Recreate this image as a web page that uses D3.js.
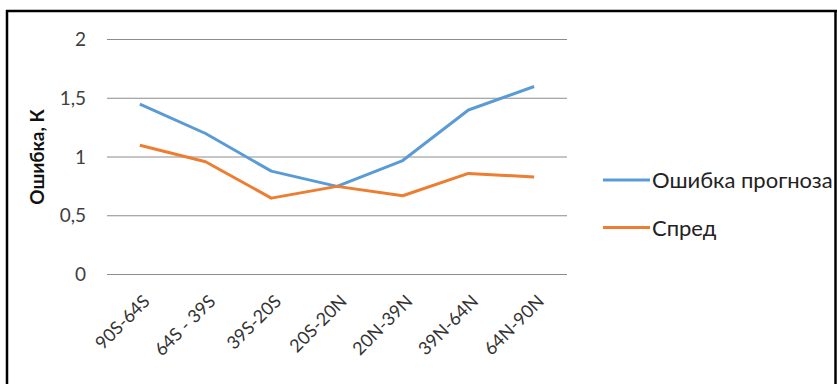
<!DOCTYPE html>
<html>
<head>
<meta charset="utf-8">
<script src="https://cdn.jsdelivr.net/npm/d3@7"></script>
<style>
  html, body { margin: 0; padding: 0; background: #fff; overflow: hidden; }
  svg { display: block; }
  text { font-family: Lato, "Open Sans", sans-serif; }
</style>
</head>
<body>
<div id="chart"></div>
<script>
var W = 837, H = 384;
var categories = ["90S-64S", "64S - 39S", "39S-20S", "20S-20N", "20N-39N", "39N-64N", "64N-90N"];
var errorValues = [1.45, 1.2, 0.88, 0.75, 0.97, 1.4, 1.6];
var spreadValues = [1.1, 0.96, 0.65, 0.75, 0.67, 0.86, 0.83];
var yTicks = [0, 0.5, 1, 1.5, 2];
var seriesNames = ["Ошибка прогноза", "Спред"];
var colors = ["#5b9bd5", "#ed7d31"];

var svg = d3.select("#chart").append("svg")
    .attr("width", W).attr("height", H);

// frame: left, top and right edges
svg.append("line").attr("x1", 7).attr("x2", 7).attr("y1", 10).attr("y2", H)
    .attr("stroke", "#000").attr("stroke-width", 2.5);
svg.append("line").attr("x1", 835.5).attr("x2", 835.5).attr("y1", 10).attr("y2", H)
    .attr("stroke", "#000").attr("stroke-width", 2.5);
svg.append("line").attr("x1", 6).attr("x2", 837).attr("y1", 11).attr("y2", 11)
    .attr("stroke", "#000").attr("stroke-width", 2.5);

var x = d3.scaleBand().domain(categories).range([107, 567]);
var y = d3.scaleLinear().domain([0, 2]).range([274.5, 39.5]);

// grid
svg.append("g").selectAll("line").data(yTicks).enter().append("line")
    .attr("x1", 107).attr("x2", 567)
    .attr("y1", function (d) { return y(d); })
    .attr("y2", function (d) { return y(d); })
    .attr("stroke", "#8c8c8c").attr("stroke-width", 1);

// y axis labels
var yAxis = d3.axisLeft(y).tickValues(yTicks).tickSize(0).tickPadding(21)
    .tickFormat(function (d) { return String(d).replace(".", ","); });
var gy = svg.append("g").attr("transform", "translate(107,0)").call(yAxis);
gy.select(".domain").remove();
gy.selectAll("text").attr("font-size", 19).attr("fill", "#404040")
    .style("font-family", "Lato, 'Open Sans', sans-serif");

// y title
svg.append("text")
    .attr("transform", "translate(44,157) rotate(-90)")
    .attr("text-anchor", "middle")
    .attr("font-size", 19).attr("font-weight", "bold").attr("fill", "#111")
    .text("Ошибка, К");

// x axis labels
var xAxis = d3.axisBottom(x).tickSize(0).tickPadding(0);
var gx = svg.append("g").attr("transform", "translate(0,274.5)").call(xAxis);
gx.select(".domain").remove();
gx.selectAll("text")
    .attr("font-size", 18).attr("fill", "#333")
    .style("font-family", "Lato, 'Open Sans', sans-serif")
    .attr("text-anchor", "end")
    .attr("dy", 0)
    .attr("transform", "translate(11,28) rotate(-45)");

// lines
var line = d3.line()
    .x(function (d, i) { return x(categories[i]) + x.bandwidth() / 2; })
    .y(function (d) { return y(d); });
[errorValues, spreadValues].forEach(function (vals, k) {
    svg.append("path").datum(vals)
        .attr("d", line)
        .attr("fill", "none")
        .attr("stroke", colors[k])
        .attr("stroke-width", 3)
        .attr("stroke-linejoin", "round");
});

// legend
var legend = svg.append("g");
seriesNames.forEach(function (name, k) {
    var ly = 180 + k * 47.5;
    legend.append("line")
        .attr("x1", 603).attr("x2", 650).attr("y1", ly).attr("y2", ly)
        .attr("stroke", colors[k]).attr("stroke-width", 3);
    legend.append("text")
        .attr("x", 652).attr("y", ly + 8)
        .attr("font-size", 22).attr("fill", "#222")
        .text(name);
});
</script>
</body>
</html>
